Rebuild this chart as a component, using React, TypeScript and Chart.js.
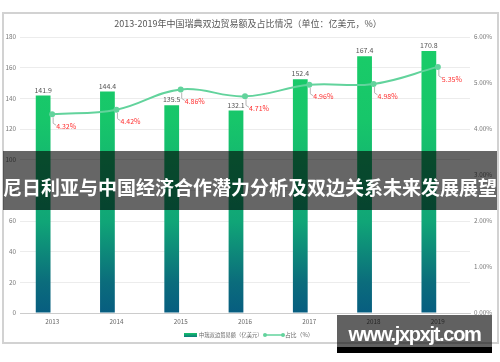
import React, { useEffect, useRef } from "react";
import { Chart, registerables } from "chart.js";

Chart.register(...registerables);

const years = ["2013", "2014", "2015", "2016", "2017", "2018", "2019"];
const tradeValues = [141.9, 144.4, 135.5, 132.1, 152.4, 167.4, 170.8];
const sharePercents = [4.32, 4.42, 4.86, 4.71, 4.96, 4.98, 5.35];
const leftAxis = { min: 0, max: 180, step: 20 };
const rightAxis = { min: 0, max: 6, step: 1 };
const titleText = "2013-2019年中国瑞典双边贸易额及占比情况（单位：亿美元，%）";
const barLegend = "中瑞双边贸易额（亿美元）";
const lineLegend = "占比（%）";
const bannerText = "尼日利亚与中国经济合作潜力分析及双边关系未来发展展望";
const watermarkText = "www.jxpxjt.com";

const FONT = "'Noto Sans CJK SC', 'Noto Sans', sans-serif";
const LINE_COLOR = "#62d39c";

const decorPlugin = {
  id: "decor",
  afterDatasetsDraw(chart: any) {
    const ctx = chart.ctx as CanvasRenderingContext2D;
    ctx.save();
    const barMeta = chart.getDatasetMeta(0);
    ctx.font = `7px ${FONT}`;
    ctx.fillStyle = "#555";
    ctx.textAlign = "center";
    ctx.textBaseline = "bottom";
    barMeta.data.forEach((el: any, i: number) => {
      ctx.fillText(tradeValues[i].toFixed(1), el.x, el.y - 2);
    });
    const lineMeta = chart.getDatasetMeta(2);
    lineMeta.data.forEach((pt: any, i: number) => {
      ctx.strokeStyle = "#b5b5b5";
      ctx.lineWidth = 1;
      ctx.beginPath();
      ctx.moveTo(pt.x + 1, pt.y + 3);
      ctx.lineTo(pt.x + 1, pt.y + 9);
      ctx.lineTo(pt.x + 4, pt.y + 11);
      ctx.stroke();
      ctx.font = `7px ${FONT}`;
      ctx.fillStyle = "#ff3030";
      ctx.textAlign = "left";
      ctx.textBaseline = "middle";
      ctx.fillText(sharePercents[i].toFixed(2) + "%", pt.x + 4, pt.y + 12);
    });
    ctx.restore();
  },
  afterDraw(chart: any) {
    const ctx = chart.ctx as CanvasRenderingContext2D;
    ctx.save();
    ctx.font = `9px ${FONT}`;
    ctx.fillStyle = "#555";
    ctx.textAlign = "center";
    ctx.textBaseline = "middle";
    ctx.fillText(titleText, 248, 24);
    const ly = 335;
    const g = ctx.createLinearGradient(0, ly - 2, 0, ly + 2);
    g.addColorStop(0, "#17c46b");
    g.addColorStop(1, "#0b7a7a");
    ctx.fillStyle = g;
    ctx.fillRect(184, ly - 2, 13, 4);
    ctx.font = `5.3px ${FONT}`;
    ctx.fillStyle = "#666";
    ctx.textAlign = "left";
    ctx.fillText(barLegend, 199, ly);
    ctx.strokeStyle = LINE_COLOR;
    ctx.lineWidth = 1.5;
    ctx.beginPath();
    ctx.moveTo(265, ly);
    ctx.lineTo(283, ly);
    ctx.stroke();
    ctx.fillStyle = LINE_COLOR;
    [265, 283].forEach((x) => {
      ctx.beginPath();
      ctx.arc(x, ly, 2, 0, Math.PI * 2);
      ctx.fill();
    });
    ctx.fillStyle = "#666";
    ctx.font = `5.8px ${FONT}`;
    ctx.fillText(lineLegend, 285, ly);
    ctx.restore();
  },
};

function barGradient(context: any) {
  const chart = context.chart;
  const area = chart.chartArea;
  if (!area) return "#17c46b";
  const g = chart.ctx.createLinearGradient(0, area.top, 0, area.bottom);
  g.addColorStop(0, "#1acd68");
  g.addColorStop(0.3, "#17c66a");
  g.addColorStop(0.67, "#10a577");
  g.addColorStop(0.89, "#0b6c7c");
  g.addColorStop(1, "#075d80");
  return g;
}

export default function App() {
  const canvasRef = useRef<HTMLCanvasElement | null>(null);

  useEffect(() => {
    const canvas = canvasRef.current;
    if (!canvas) return;
    const chart = new Chart(canvas, {
      type: "bar",
      data: {
        labels: years,
        datasets: [
          {
            type: "bar",
            label: barLegend,
            data: tradeValues,
            backgroundColor: barGradient,
            yAxisID: "y",
            order: 2,
            categoryPercentage: 0.56,
            barPercentage: 0.82,
          },
          {
            type: "bar",
            label: "_spacer",
            data: years.map(() => null),
            backgroundColor: "transparent",
            yAxisID: "y",
            order: 3,
            categoryPercentage: 0.56,
            barPercentage: 0.82,
          },
          {
            type: "line",
            label: lineLegend,
            data: sharePercents,
            yAxisID: "y1",
            borderColor: LINE_COLOR,
            backgroundColor: LINE_COLOR,
            borderWidth: 2,
            pointRadius: 3,
            pointBackgroundColor: LINE_COLOR,
            pointBorderWidth: 0,
            tension: 0.4,
            order: 1,
          },
        ] as any,
      },
      options: {
        responsive: false,
        animation: false,
        devicePixelRatio: 1,
        layout: { padding: { top: 37, left: 0, right: 0, bottom: 33 } },
        plugins: {
          legend: { display: false },
          title: { display: false },
          tooltip: { enabled: false },
        },
        scales: {
          x: {
            grid: { display: false, drawTicks: false },
            border: { display: true, color: "#cccccc" },
            ticks: { color: "#666", font: { size: 6.3, family: FONT }, padding: 5 },
            afterFit: (s: any) => {
              s.height = 16;
            },
          },
          y: {
            position: "left",
            min: leftAxis.min,
            max: leftAxis.max,
            ticks: {
              stepSize: leftAxis.step,
              color: "#777",
              font: { size: 6.3, family: FONT },
              padding: 4,
            },
            grid: { color: "#ececec", drawTicks: false },
            border: { display: false },
            afterFit: (s: any) => {
              s.width = 20;
            },
          },
          y1: {
            position: "right",
            min: rightAxis.min,
            max: rightAxis.max,
            ticks: {
              stepSize: rightAxis.step,
              color: "#777",
              font: { size: 6.3, family: FONT },
              padding: 4,
              callback: (v: any) => Number(v).toFixed(2) + "%",
            },
            grid: { display: false, drawTicks: false },
            border: { display: false },
            afterFit: (s: any) => {
              s.width = 30;
            },
          },
        },
      } as any,
      plugins: [decorPlugin],
    });
    return () => chart.destroy();
  }, []);

  return (
    <div style={{ position: "absolute", left: 0, top: 0, width: 500, height: 362, background: "#fff", overflow: "hidden" }}>
      <div
        style={{
          position: "absolute",
          left: 2,
          top: 12,
          width: 497,
          height: 332,
          border: "2px solid #d2d2d2",
          boxSizing: "border-box",
        }}
      />
      <canvas ref={canvasRef} width={500} height={362} style={{ position: "absolute", left: 0, top: 0, width: 500, height: 362 }} />
      <div
        style={{
          position: "absolute",
          left: 3,
          top: 151,
          width: 494,
          height: 59,
          background: "rgba(0,0,0,0.6)",
          color: "#fff",
          fontFamily: FONT,
          fontWeight: 700,
          fontSize: 19,
          lineHeight: "59px",
          textAlign: "center",
          whiteSpace: "nowrap",
          paddingTop: 6,
          boxSizing: "border-box",
          overflow: "hidden",
        }}
      >
        <span style={{ lineHeight: "47px" }}>{bannerText}</span>
      </div>
      <div
        style={{
          position: "absolute",
          left: 337,
          top: 315,
          width: 155,
          height: 32,
          background: "rgba(0,0,0,0.62)",
        }}
      />
      <div style={{ position: "absolute", left: 337, top: 347, width: 155, height: 6, background: "#000" }} />
      <div
        style={{
          position: "absolute",
          left: 337,
          top: 322,
          width: 155,
          textAlign: "center",
          color: "#fff",
          fontFamily: "'Liberation Sans', Arial, sans-serif",
          fontWeight: 700,
          fontSize: 20,
          lineHeight: "24px",
          letterSpacing: "-1.3px",
          whiteSpace: "nowrap",
        }}
      >
        {watermarkText}
      </div>
    </div>
  );
}
